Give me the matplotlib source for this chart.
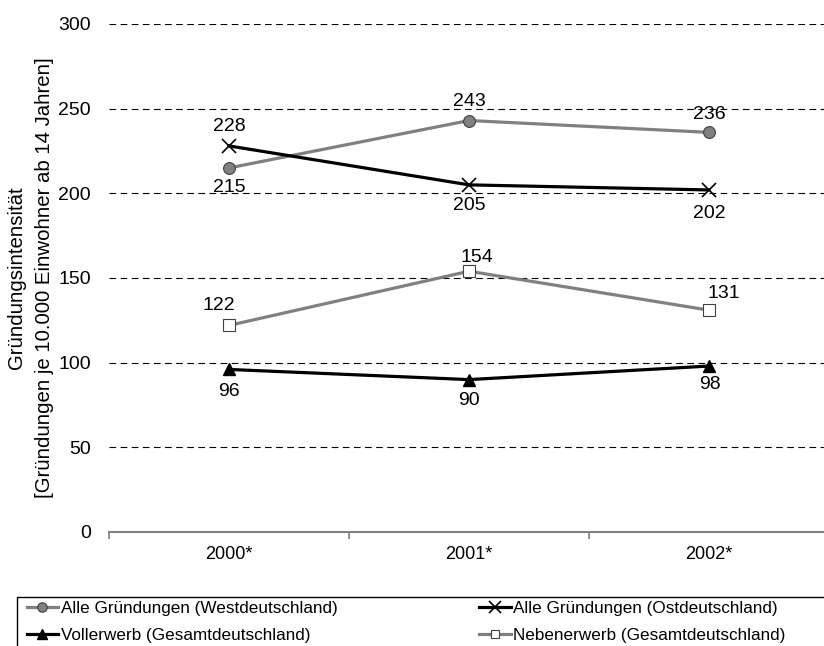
import matplotlib.pyplot as plt
from matplotlib.patches import Rectangle

plt.rcParams['font.family'] = ['Liberation Sans', 'DejaVu Sans']
plt.rcParams['font.size'] = 14

years = ['2000*', '2001*', '2002*']
west = [215, 243, 236]
ost = [228, 205, 202]
voll = [96, 90, 98]
neben = [122, 154, 131]

W, H = 824, 646
fig = plt.figure(figsize=(W / 100, H / 100), dpi=100)
ax = fig.add_axes([109 / W, 1 - 532 / H, 720 / W, 508 / H])

x = list(range(len(years)))
grey = '#808080'

l_west, = ax.plot(x, west, color=grey, lw=2.3, marker='o', ms=8.5,
                  mfc=grey, mec='#404040', mew=0.8, zorder=3)
l_ost, = ax.plot(x, ost, color='black', lw=2.3, marker='x', ms=10,
                 mec='black', mew=1.2, zorder=3)
l_voll, = ax.plot(x, voll, color='black', lw=2.3, marker='^', ms=9,
                  mfc='black', mec='black', zorder=3)
l_neben, = ax.plot(x, neben, color=grey, lw=2.3, marker='s', ms=8,
                   mfc='white', mec='#404040', mew=0.8, zorder=3)

# data labels (offset in points)
def label(xs, ys, offs):
    for xi, yi, (dx, dy) in zip(xs, ys, offs):
        ax.annotate(str(yi), (xi, yi), xytext=(dx, dy), textcoords='offset points',
                    ha='center', va='center', fontsize=14, zorder=4)

label(x, west, [(0, -14), (0, 14), (0, 13)])
label(x, ost, [(0, 14), (0, -15), (0, -17)])
label(x, voll, [(0, -16), (0, -15), (1, -13)])
label(x, neben, [(-7, 14), (6, 10), (11, 12)])

ax.set_xlim(-0.5, 2.5)
ax.set_ylim(0, 300)
ax.set_yticks(range(0, 301, 50))
ax.set_xticks(x)
ax.set_xticklabels(years, fontsize=13)
ax.set_xticks([-0.5, 0.5, 1.5, 2.5], minor=True)
ax.tick_params(axis='x', which='major', length=0, pad=10)
ax.tick_params(axis='x', which='minor', length=5, color=grey, width=1.2)
ax.tick_params(axis='y', length=0, pad=13, labelsize=14)

ax.yaxis.grid(True, linestyle=(0, (6, 4)), color='black', lw=0.8)
ax.set_axisbelow(True)
for s in ['top', 'right', 'left']:
    ax.spines[s].set_visible(False)
ax.spines['bottom'].set_color(grey)
ax.spines['bottom'].set_linewidth(1.5)
ax.spines['bottom'].set_zorder(2)

fig.text(17 / W, 1 - 278 / H, 'Gründungsintensität', rotation=90,
         ha='center', va='center', fontsize=14.7)
fig.text(45 / W, 1 - 278 / H, '[Gründungen je 10.000 Einwohner ab 14 Jahren]',
         rotation=90, ha='center', va='center', fontsize=14.7)

# legend box
fig.patches.append(Rectangle((17 / W, -0.05), 1.0, 1 - 597 / H + 0.05,
                             transform=fig.transFigure, fill=False,
                             edgecolor='black', lw=1))
fig.legend([l_west, l_voll, l_ost, l_neben],
           ['Alle Gründungen (Westdeutschland)', 'Vollerwerb (Gesamtdeutschland)',
            'Alle Gründungen (Ostdeutschland)', 'Nebenerwerb (Gesamtdeutschland)'],
           ncol=2, loc='upper left', bbox_to_anchor=(18 / W, 1 - 592 / H),
           frameon=False, borderpad=0, handlelength=1.85, handletextpad=0.15,
           columnspacing=8.3, labelspacing=0.72, markerscale=0.8, fontsize=12.3)

fig.savefig('out.png', dpi=100)
